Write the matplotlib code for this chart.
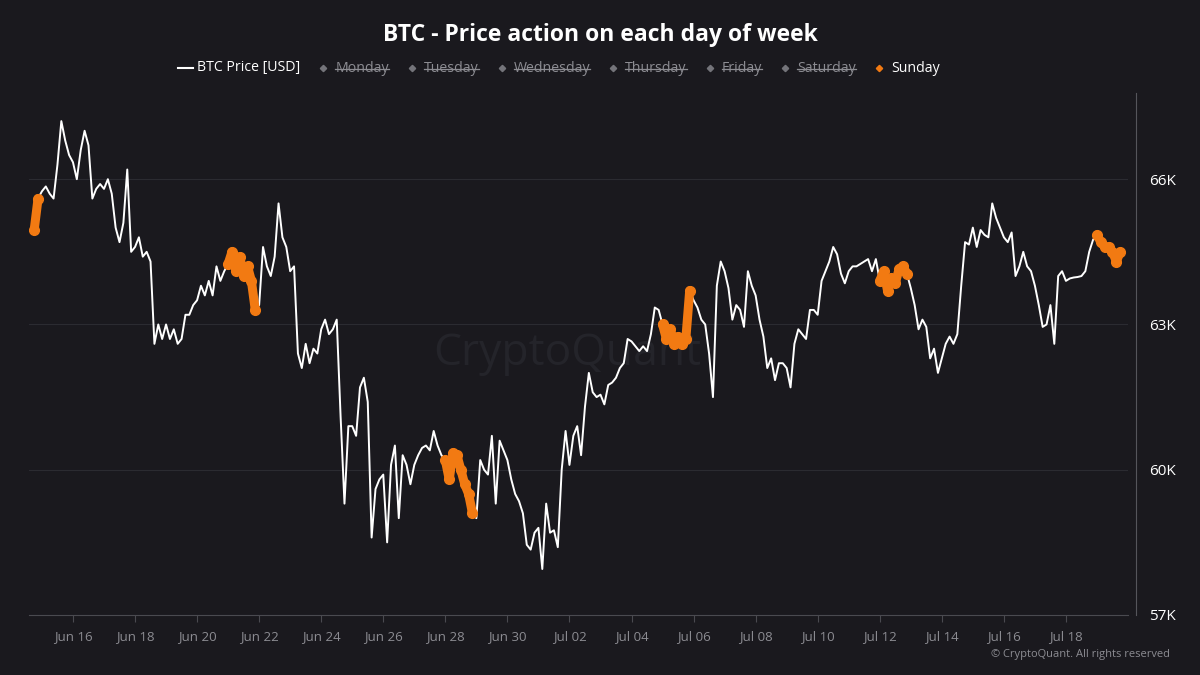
import numpy as np
import pandas as pd
import matplotlib
matplotlib.use("Agg")
import matplotlib.pyplot as plt
import matplotlib.dates as mdates
from matplotlib.lines import Line2D
from matplotlib.ticker import FuncFormatter

TITLE = "BTC - Price action on each day of week"
price_label = "BTC Price [USD]"
weekdays = ["Monday", "Tuesday", "Wednesday", "Thursday", "Friday", "Saturday", "Sunday"]
shown_day = "Sunday"

# 3-hourly BTC price in thousand USD
start_time = "2020-06-14 18:00"
step = "3h"
btc_price = [
    64.95, 65.6,                                            # Jun 14
    65.75, 65.85, 65.7, 65.6, 66.3, 67.2, 66.8, 66.5,       # Jun 15
    66.35, 66.0, 66.6, 67.0, 66.7, 65.6, 65.8, 65.9,        # Jun 16
    65.8, 66.0, 65.7, 65.0, 64.7, 65.1, 66.2, 64.5,         # Jun 17
    64.6, 64.8, 64.4, 64.5, 64.3, 62.6, 63.0, 62.7,         # Jun 18
    63.0, 62.7, 62.9, 62.6, 62.7, 63.2, 63.2, 63.4,         # Jun 19
    63.5, 63.8, 63.6, 63.9, 63.6, 64.2, 63.9, 64.1,         # Jun 20
    64.25, 64.5, 64.1, 64.4, 64.0, 64.2, 63.9, 63.3,        # Jun 21
    63.4, 64.6, 64.2, 64.0, 64.4, 65.5, 64.8, 64.6,         # Jun 22
    64.1, 64.2, 62.4, 62.1, 62.6, 62.2, 62.5, 62.4,         # Jun 23
    62.9, 63.1, 62.8, 62.9, 63.1, 61.1, 59.3, 60.9,         # Jun 24
    60.9, 60.7, 61.7, 61.9, 61.4, 58.6, 59.6, 59.8,         # Jun 25
    59.9, 58.5, 60.1, 60.5, 59.0, 60.3, 60.1, 59.7,         # Jun 26
    60.1, 60.3, 60.45, 60.5, 60.4, 60.8, 60.5, 60.3,        # Jun 27
    60.2, 59.8, 60.35, 60.3, 60.0, 59.7, 59.5, 59.1,        # Jun 28
    59.0, 60.2, 60.0, 59.9, 60.7, 59.3, 60.6, 60.4,         # Jun 29
    60.2, 59.8, 59.5, 59.35, 59.1, 58.45, 58.35, 58.7,      # Jun 30
    58.8, 57.95, 59.3, 58.7, 58.75, 58.4, 60.0, 60.8,       # Jul 01
    60.1, 60.7, 60.9, 60.3, 61.3, 62.0, 61.6, 61.5,         # Jul 02
    61.55, 61.35, 61.75, 61.8, 61.9, 62.1, 62.2, 62.7,      # Jul 03
    62.65, 62.55, 62.45, 62.55, 62.45, 62.8, 63.35, 63.3,   # Jul 04
    63.0, 62.7, 62.9, 62.6, 62.75, 62.6, 62.7, 63.7,        # Jul 05
    63.5, 63.35, 63.1, 63.0, 62.4, 61.5, 63.8, 64.3,        # Jul 06
    64.1, 63.75, 63.1, 63.4, 63.3, 62.95, 64.1, 63.8,       # Jul 07
    63.6, 63.1, 62.75, 62.1, 62.3, 61.85, 62.2, 62.2,       # Jul 08
    62.1, 61.7, 62.6, 62.9, 62.8, 62.7, 63.3, 63.3,         # Jul 09
    63.2, 63.9, 64.1, 64.3, 64.6, 64.45, 64.05, 63.85,      # Jul 10
    64.1, 64.2, 64.2, 64.25, 64.3, 64.35, 64.1, 64.35,      # Jul 11
    63.9, 64.1, 63.7, 63.95, 63.85, 64.15, 64.2, 64.05,     # Jul 12
    63.75, 63.4, 62.9, 63.1, 62.95, 62.3, 62.5, 62.0,       # Jul 13
    62.3, 62.6, 62.75, 62.6, 62.8, 63.8, 64.7, 64.65,       # Jul 14
    65.0, 64.6, 64.95, 64.85, 64.8, 65.5, 65.2, 65.0,       # Jul 15
    64.8, 64.7, 64.9, 64.0, 64.2, 64.5, 64.2, 64.1,         # Jul 16
    63.8, 63.4, 62.95, 63.0, 63.4, 62.6, 64.0, 64.1,        # Jul 17
    63.9, 63.95, 63.97, 63.98, 64.0, 64.1, 64.5, 64.75,     # Jul 18
    64.85, 64.7, 64.6, 64.6, 64.5, 64.3, 64.5,              # Jul 19
]

y_ticks = [57000, 60000, 63000, 66000]
tick_dates = pd.date_range("2020-06-16", "2020-07-18", freq="2D")

BG = "#1a191e"
ORANGE = "#f27a12"
GREY = "#8c8c92"
FONT = "Open Sans"

plt.rcParams["font.family"] = [FONT, "DejaVu Sans"]

times = pd.date_range(start_time, periods=len(btc_price), freq=step)
price = np.array(btc_price) * 1000
day_pos = weekdays.index(shown_day)
shown = np.where(times.dayofweek == day_pos, price, np.nan)

W, H = 1200, 675
fig = plt.figure(figsize=(12, 6.75), dpi=100, facecolor=BG)
ax = fig.add_axes([29 / W, 60 / H, 1099 / W, 522 / H])
ax.set_facecolor(BG)

# watermark
ax.text(0.49, 0.50, "CryptoQuant", transform=ax.transAxes, ha="center", va="center",
        fontsize=32, color="#24242a", zorder=0)

ax.plot(times, price, color="white", lw=1.4, zorder=3)
ax.plot(times, shown, color=ORANGE, lw=6.5, marker="o", ms=7,
        solid_capstyle="round", solid_joinstyle="round", zorder=4)

ax.set_xlim(pd.Timestamp("2020-06-14 14:00"), pd.Timestamp("2020-07-20 00:00"))
ax.set_ylim(57000, 67780)

ax.yaxis.tick_right()
ax.set_yticks(y_ticks)
ax.yaxis.set_major_formatter(FuncFormatter(lambda v, p: f"{v / 1000:.0f}K"))
ax.tick_params(axis="y", length=0, pad=9, labelsize=11, labelcolor="white")
ax.grid(axis="y", color="#2b2b31", lw=0.8)

ax.set_xticks(tick_dates)
ax.xaxis.set_major_formatter(mdates.DateFormatter("%b %d"))
ax.tick_params(axis="x", length=5, width=0.8, color="#4a4a50", pad=6,
               labelsize=9.5, labelcolor=GREY)

for side in ["top", "left"]:
    ax.spines[side].set_visible(False)
ax.spines["bottom"].set_color("#4a4a50")
ax.spines["right"].set_color("#55555b")
ax.spines["right"].set_position(("outward", 6))

fig.text(0.5, 1 - 35 / H, TITLE, ha="center", va="center", fontsize=16.5,
         fontweight="bold", color="white")

# legend row, laid out left to right with struck-out hidden days
renderer = fig.canvas.get_renderer()
ly = 1 - 68 / H
x = 178
fig.add_artist(Line2D([x / W, (x + 15) / W], [ly, ly], color="white", lw=1.5,
                      transform=fig.transFigure))
t = fig.text((x + 19) / W, ly, price_label, ha="left", va="center", fontsize=10.2,
             color="white")
x = t.get_window_extent(renderer).x1 + 23
for day in weekdays:
    on = day == shown_day
    fig.add_artist(Line2D([x / W], [ly], marker="D", ms=3.2, lw=0,
                          color=ORANGE if on else "#74747a",
                          transform=fig.transFigure))
    t = fig.text((x + 12) / W, ly, day, ha="left", va="center", fontsize=10.2,
                 color="white" if on else GREY)
    bb = t.get_window_extent(renderer)
    if not on:
        sy = (bb.y0 + bb.height * 0.45) / H
        fig.add_artist(Line2D([bb.x0 / W, bb.x1 / W], [sy, sy], color=GREY, lw=0.9,
                              transform=fig.transFigure))
    x = bb.x1 + 23

fig.text(1170 / W, 1 - 655 / H, "\u00a9 CryptoQuant. All rights reserved", ha="right",
         va="center", fontsize=8, color=GREY)

fig.savefig("out.png", dpi=100, facecolor=BG)
